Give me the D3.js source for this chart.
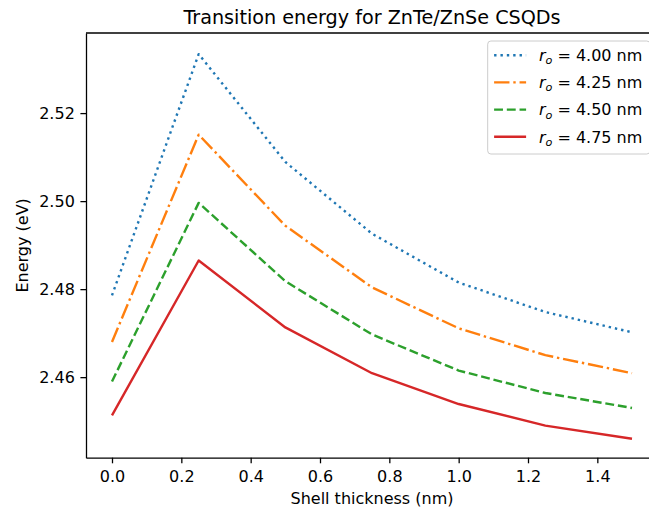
<!DOCTYPE html>
<html>
<head>
<meta charset="utf-8">
<script src="https://cdn.jsdelivr.net/npm/d3@7"></script>
<style>
  html, body { margin: 0; padding: 0; background: #fff; }
  svg { display: block; font-family: "DejaVu Sans", sans-serif; }
</style>
</head>
<body>
<svg id="chart" width="649" height="513"></svg>
<script>
// Shell thickness (nm) sampled for every core radius
const shellThickness = [0, 0.25, 0.5, 0.75, 1.0, 1.25, 1.5];

// Transition energy (eV) for each core radius
const energyR400 = [2.4786, 2.5334, 2.5089, 2.4926, 2.4815, 2.4748, 2.4702];
const energyR425 = [2.4680, 2.5151, 2.4944, 2.4804, 2.4711, 2.4650, 2.4609];
const energyR450 = [2.4590, 2.4996, 2.4818, 2.4697, 2.4615, 2.4564, 2.4530];
const energyR475 = [2.4513, 2.4865, 2.4713, 2.4609, 2.4539, 2.4490, 2.4460];

// Core radius labels (nm)
const coreRadii = ["4.00", "4.25", "4.50", "4.75"];

// Tick values
const xTicks = [0.0, 0.2, 0.4, 0.6, 0.8, 1.0, 1.2, 1.4];
const yTicks = [2.46, 2.48, 2.50, 2.52];

const titleText = "Transition energy for ZnTe/ZnSe CSQDs";
const xLabelText = "Shell thickness (nm)";
const yLabelText = "Energy (eV)";

// ---- layout ----
const plot = { left: 86, right: 658, top: 33, bottom: 457.7 };
const pt = 1.6;                 // px per point
const lw = 1.5 * pt;            // line width
const colors = ["#1f77b4", "#ff7f0e", "#2ca02c", "#d62728"];
const dashes = [
  [1 * lw, 1.65 * lw],                      // dotted
  [6.4 * lw, 1.6 * lw, 1 * lw, 1.6 * lw],   // dash-dot
  [3.7 * lw, 1.6 * lw],                     // dashed
  null                                      // solid
];

const series = [energyR400, energyR425, energyR450, energyR475].map((vals, i) => ({
  radius: coreRadii[i],
  color: colors[i],
  dash: dashes[i],
  points: shellThickness.map((x, j) => ({ x, y: vals[j] }))
}));

// x limits with 5% padding on each side
const xMin = d3.min(shellThickness), xMax = d3.max(shellThickness);
const xPad = (xMax - xMin) * 0.05;
const x = d3.scaleLinear()
  .domain([xMin - xPad, xMax + xPad])
  .range([plot.left, plot.right]);

const y = d3.scaleLinear()
  .domain([2.4417, 2.5382])
  .range([plot.bottom, plot.top]);

const svg = d3.select("#chart");

// ---- lines ----
const line = d3.line().x(d => x(d.x)).y(d => y(d.y));
svg.append("g")
  .selectAll("path")
  .data(series)
  .join("path")
  .attr("d", d => line(d.points))
  .attr("fill", "none")
  .attr("stroke", d => d.color)
  .attr("stroke-width", lw)
  .attr("stroke-linejoin", "round")
  .attr("stroke-dasharray", d => d.dash ? d.dash.join(",") : null);

// ---- axes ----
const tickLen = 3.5 * pt;
const tickPad = 3.5 * pt;
const spineW = 0.8 * pt;

const xAxis = d3.axisBottom(x)
  .tickValues(xTicks)
  .tickFormat(d3.format(".1f"))
  .tickSizeInner(tickLen)
  .tickSizeOuter(0)
  .tickPadding(tickPad);

const gx = svg.append("g")
  .attr("transform", `translate(0,${plot.bottom})`)
  .call(xAxis);

const yAxis = d3.axisLeft(y)
  .tickValues(yTicks)
  .tickFormat(d3.format(".2f"))
  .tickSizeInner(tickLen)
  .tickSizeOuter(0)
  .tickPadding(tickPad);

const gy = svg.append("g")
  .attr("transform", `translate(${plot.left},0)`)
  .call(yAxis);

[gx, gy].forEach(g => {
  g.select(".domain").attr("stroke", "#000").attr("stroke-width", spineW);
  g.selectAll(".tick line").attr("stroke", "#000").attr("stroke-width", spineW);
  g.selectAll(".tick text")
    .attr("fill", "#000")
    .style("font-family", "'DejaVu Sans', sans-serif")
    .style("font-size", "16px");
});
gx.selectAll(".tick text").attr("dy", null).attr("y", null)
  .attr("transform", `translate(0,${24.3})`);
gy.selectAll(".tick text").attr("dy", "0.36em");

// top and right spines
svg.append("line")
  .attr("x1", plot.left).attr("x2", plot.right)
  .attr("y1", plot.top).attr("y2", plot.top)
  .attr("stroke", "#000").attr("stroke-width", spineW);
svg.append("line")
  .attr("x1", plot.right).attr("x2", plot.right)
  .attr("y1", plot.top).attr("y2", plot.bottom)
  .attr("stroke", "#000").attr("stroke-width", spineW);

// ---- title and axis labels ----
const cx = (plot.left + plot.right) / 2;
svg.append("text")
  .attr("x", cx).attr("y", 23.8)
  .attr("text-anchor", "middle")
  .style("font-size", "19.2px")
  .attr("fill", "#000")
  .text(titleText);

svg.append("text")
  .attr("x", cx).attr("y", 504)
  .attr("text-anchor", "middle")
  .style("font-size", "16px")
  .attr("fill", "#000")
  .text(xLabelText);

svg.append("text")
  .attr("transform", `translate(27.8,${(plot.top + plot.bottom) / 2}) rotate(-90)`)
  .attr("text-anchor", "middle")
  .style("font-size", "16px")
  .attr("fill", "#000")
  .text(yLabelText);

// ---- legend ----
const fs = 16;
const legend = { right: plot.right - 0.5 * fs, top: plot.top + 0.5 * fs, width: 162.3, height: 113 };
const lg = svg.append("g");
lg.append("rect")
  .attr("x", legend.right - legend.width)
  .attr("y", legend.top)
  .attr("width", legend.width)
  .attr("height", legend.height)
  .attr("rx", 3.2).attr("ry", 3.2)
  .attr("fill", "#fff").attr("fill-opacity", 0.8)
  .attr("stroke", "#cccccc").attr("stroke-width", 1);

const handleX0 = legend.right - legend.width + 0.4 * fs;
const handleX1 = handleX0 + 2 * fs;
const textX = handleX1 + 0.8 * fs;
const rowY0 = legend.top + 14.2;
const rowStep = 27.2;

const rows = lg.selectAll("g.entry")
  .data(series)
  .join("g")
  .attr("class", "entry")
  .attr("transform", (d, i) => `translate(0,${rowY0 + i * rowStep})`);

rows.append("line")
  .attr("x1", handleX0).attr("x2", handleX1)
  .attr("y1", 0).attr("y2", 0)
  .attr("stroke", d => d.color)
  .attr("stroke-width", lw)
  .attr("stroke-dasharray", d => d.dash ? d.dash.join(",") : null);

const lt = rows.append("text")
  .attr("x", textX)
  .attr("y", 5.8)
  .style("font-size", fs + "px")
  .attr("fill", "#000");
lt.append("tspan").style("font-style", "italic").text("r");
lt.append("tspan").style("font-style", "italic").style("font-size", (fs * 0.7) + "px")
  .attr("dy", 3.2).text("o");
lt.append("tspan").attr("dy", -3.2).text(d => ` = ${d.radius} nm`);
</script>
</body>
</html>
